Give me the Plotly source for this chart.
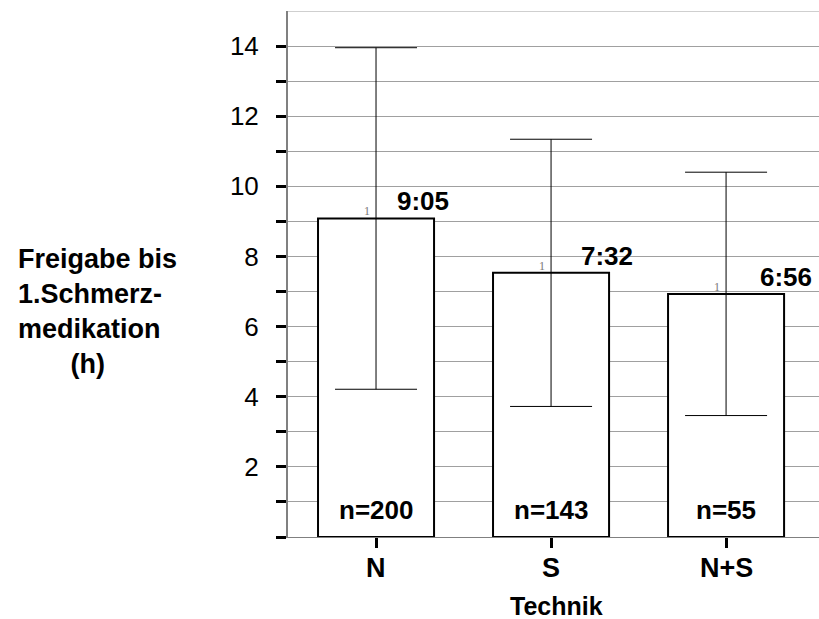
import plotly.graph_objects as go

categories = ["N", "S", "N+S"]
means = [9.083, 7.533, 6.933]
sd = [4.87, 3.81, 3.47]
mean_labels = ["9:05", "7:32", "6:56"]
n_labels = ["n=200", "n=143", "n=55"]
label_dx = [0.27, 0.32, 0.34]
y_tickvals = list(range(0, 15))
y_ticktext = [str(v) if v % 2 == 0 and v > 0 else "" for v in y_tickvals]

FONT = "Liberation Sans, Arial, sans-serif"
GRID = "#a0a0a0"

fig = go.Figure()
fig.add_trace(go.Bar(
    x=list(range(len(categories))), y=means, width=0.663,
    marker=dict(color="white", line=dict(color="black", width=2)),
    error_y=dict(type="data", array=sd, visible=True, color="black", thickness=1, width=41),
    showlegend=False,
))

ann = []
for i, (c, m, lab, n, dx) in enumerate(zip(categories, means, mean_labels, n_labels, label_dx)):
    ann.append(dict(x=i + dx, y=m, text="<b>%s</b>" % lab, showarrow=False, yshift=17,
                    xanchor="center", yanchor="middle", font=dict(size=26, color="black", family=FONT)))
    ann.append(dict(x=i, y=0.77, text="<b>%s</b>" % n, showarrow=False,
                    xanchor="center", yanchor="middle", font=dict(size=26, color="black", family=FONT)))
    ann.append(dict(x=i, y=m, text="1", showarrow=False, xshift=-9, yshift=-2,
                    xanchor="center", yanchor="bottom", font=dict(size=12, color="#777777", family="Liberation Serif")))
    ann.append(dict(x=i, yref="paper", y=(537 - 568) / 526, text="<b>%s</b>" % c, showarrow=False,
                    xanchor="center", yanchor="middle", font=dict(size=27, color="black", family=FONT)))

ann.append(dict(xref="paper", yref="paper", x=-0.512, y=0.428, xanchor="left", yanchor="middle",
                align="left", showarrow=False,
                text="<b>Freigabe bis<br>1.Schmerz-<br>medikation<br>" + "&nbsp;" * 7 + "(h)</b>",
                font=dict(size=27, color="black", family=FONT)))
ann.append(dict(xref="paper", yref="paper", x=(556 - 288) / 531, y=(537 - 606) / 526,
                xanchor="center", yanchor="middle", showarrow=False, text="<b>Technik</b>",
                font=dict(size=25, color="black", family=FONT)))

fig.update_layout(
    width=819, height=619,
    margin=dict(l=288, r=0, t=11, b=82),
    paper_bgcolor="white", plot_bgcolor="white",
    annotations=ann,
    shapes=[dict(type="line", xref="paper", yref="y", x0=0, x1=1, y0=15, y1=15,
                 line=dict(color=GRID, width=1))],
    xaxis=dict(range=[-0.503, 2.531], tickvals=[0, 1, 2], ticktext=["", "", ""],
               ticks="outside", ticklen=10, tickwidth=3, tickcolor="black",
               showline=True, linecolor="#808080", linewidth=1, showgrid=False, zeroline=False),
    yaxis=dict(range=[0, 15], tickvals=y_tickvals, ticktext=y_ticktext,
               ticks="outside", ticklen=10, tickwidth=3, tickcolor="black",
               showline=True, linecolor="#808080", linewidth=2,
               showgrid=True, gridcolor=GRID, gridwidth=1, zeroline=False,
               tickfont=dict(size=26, color="black", family=FONT), ticklabelstandoff=12),
)

fig.write_html("out.html", config={"displayModeBar": False},
               post_script="document.body.style.margin='0';document.body.style.overflow='hidden';")
